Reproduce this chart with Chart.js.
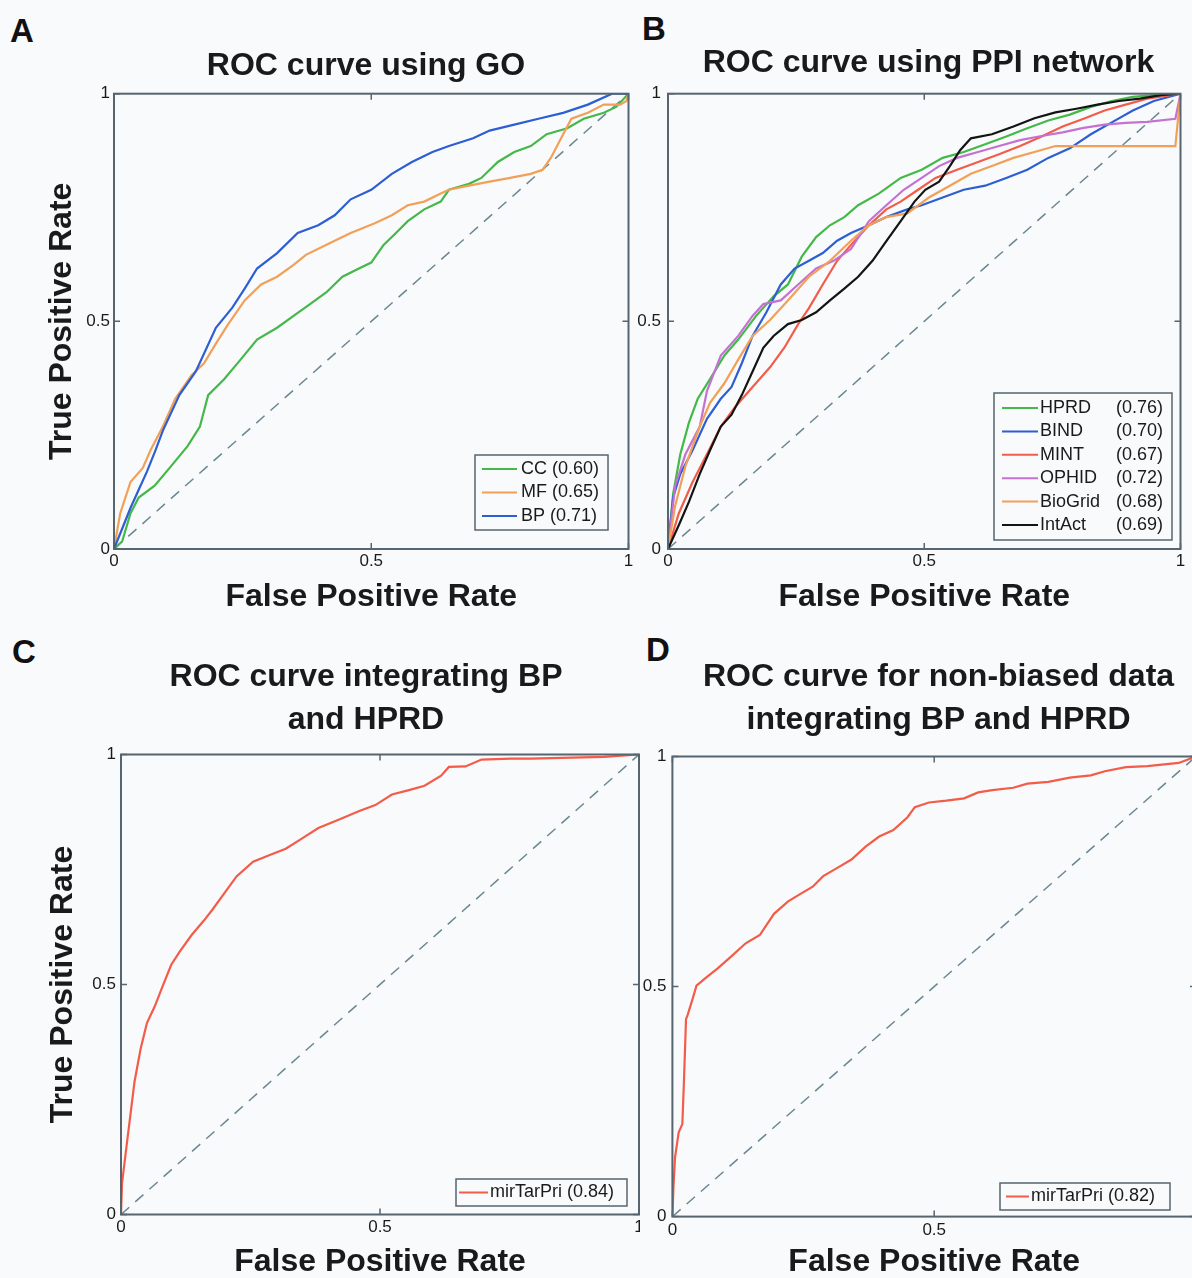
<!DOCTYPE html>
<html><head><meta charset="utf-8">
<script src="https://cdn.jsdelivr.net/npm/chart.js@4.4.0/dist/chart.umd.min.js"></script>
<style>
html,body{margin:0;padding:0;width:1192px;height:1278px;overflow:hidden;background:#f9fafc;}
canvas{position:absolute;}
.lbl{position:absolute;font-family:"Liberation Sans",Arial,sans-serif;font-weight:bold;font-size:33px;line-height:33px;color:#111;}
</style></head><body>
<div class="lbl" style="left:10px;top:14px">A</div>
<div class="lbl" style="left:642px;top:12px">B</div>
<div class="lbl" style="left:12px;top:635px">C</div>
<div class="lbl" style="left:646px;top:633px">D</div>
<canvas id="cA" width="640" height="620" style="left:0px;top:0px"></canvas>
<canvas id="cB" width="572" height="620" style="left:620px;top:0px"></canvas>
<canvas id="cC" width="640" height="658" style="left:0px;top:620px"></canvas>
<canvas id="cD" width="580" height="658" style="left:620px;top:620px"></canvas>
<script>
// ---------------- data ----------------
const tickValues = [0, 0.5, 1];
const tickLabels = ['0', '0.5', '1'];
const xAxisTitle = 'False Positive Rate';
const yAxisTitle = 'True Positive Rate';
const diagFPR = [0, 1];
const diagTPR = [0, 1];

// Panel A: GO
const titleA = ['ROC curve using GO'];
const goNames = ['CC', 'MF', 'BP'];
const goAUC = ['0.60', '0.65', '0.71'];
const goCC_fpr = [0,.016,.032,.048,.079,.111,.143,.167,.183,.214,.246,.278,.317,.349,.381,.413,.444,.476,.5,.524,.548,.571,.603,.635,.651,.69,.714,.746,.778,.81,.841,.881,.913,.952,.976,1];
const goCC_tpr = [0,.017,.078,.113,.139,.182,.226,.269,.338,.373,.416,.46,.486,.512,.538,.564,.598,.616,.629,.668,.694,.72,.746,.763,.789,.802,.815,.85,.872,.885,.911,.924,.945,.958,.971,1];
const goMF_fpr = [0,.012,.032,.056,.071,.095,.119,.151,.175,.198,.222,.254,.286,.317,.349,.373,.413,.46,.508,.54,.571,.603,.635,.651,.69,.73,.77,.81,.833,.849,.873,.889,.921,.952,.984,.996,1];
const goMF_tpr = [0,.078,.147,.178,.217,.269,.33,.382,.408,.451,.494,.546,.581,.598,.624,.646,.668,.694,.716,.733,.755,.763,.781,.789,.798,.807,.815,.824,.833,.859,.911,.945,.958,.976,.976,.984,1];
const goBP_fpr = [0,.016,.032,.048,.064,.08,.095,.127,.159,.198,.23,.254,.278,.317,.357,.397,.429,.46,.5,.54,.579,.619,.651,.698,.73,.778,.825,.873,.921,.968,1];
const goBP_tpr = [0,.045,.09,.13,.17,.215,.26,.338,.39,.486,.53,.572,.616,.65,.694,.711,.733,.768,.789,.824,.85,.872,.885,.902,.919,.932,.945,.958,.976,1,1];

// Panel B: PPI networks
const titleB = ['ROC curve using PPI network'];
const ppiNames = ['HPRD', 'BIND', 'MINT', 'OPHID', 'BioGrid', 'IntAct'];
const ppiAUC = ['0.76', '0.70', '0.67', '0.72', '0.68', '0.69'];
const hprd_fpr = [0,.01,.024,.041,.058,.082,.11,.137,.172,.206,.234,.261,.289,.316,.344,.371,.412,.454,.495,.536,.577,.619,.66,.701,.742,.784,.825,.866,.907,.948,1];
const hprd_tpr = [0,.121,.208,.278,.33,.373,.425,.46,.512,.555,.581,.642,.685,.711,.729,.755,.781,.815,.833,.859,.872,.889,.906,.924,.941,.954,.971,.984,.993,.997,1];
const bind_fpr = [0,.010,.024,.048,.076,.103,.124,.144,.165,.192,.220,.247,.275,.302,.330,.357,.392,.426,.467,.495,.536,.577,.619,.660,.701,.742,.784,.825,.866,.907,.948,1];
const bind_tpr = [0,.113,.165,.217,.286,.330,.356,.408,.468,.520,.581,.616,.633,.650,.677,.694,.711,.729,.746,.755,.772,.789,.798,.815,.833,.859,.880,.911,.937,.963,.984,1];
const mint_fpr = [0,.021,.048,.076,.103,.131,.165,.199,.227,.254,.275,.302,.330,.357,.392,.426,.454,.488,.522,.564,.605,.646,.687,.729,.770,.811,.852,.893,.935,1];
const mint_tpr = [0,.078,.147,.208,.269,.312,.356,.399,.442,.494,.529,.581,.633,.668,.711,.746,.763,.789,.815,.833,.850,.867,.885,.906,.928,.945,.963,.976,.989,1];
const ophid_fpr = [0,.014,.034,.062,.076,.103,.137,.165,.186,.220,.254,.289,.323,.357,.392,.426,.460,.495,.529,.564,.605,.646,.687,.729,.770,.811,.852,.893,.935,.990,1];
const ophid_tpr = [0,.139,.208,.269,.347,.425,.468,.512,.538,.546,.581,.616,.633,.659,.720,.755,.789,.815,.841,.859,.872,.885,.898,.907,.915,.925,.932,.936,.938,.945,1];
const biogrid_fpr = [0,.014,.034,.062,.082,.110,.137,.165,.199,.234,.275,.316,.357,.392,.426,.467,.509,.550,.591,.632,.674,.715,.756,.990,1];
const biogrid_tpr = [0,.095,.182,.269,.321,.364,.416,.468,.503,.546,.598,.633,.677,.711,.729,.737,.772,.798,.824,.841,.859,.872,.885,.885,1];
const intact_fpr = [0,.021,.041,.062,.082,.103,.124,.144,.165,.186,.206,.234,.261,.289,.316,.344,.371,.399,.426,.454,.481,.502,.529,.550,.570,.591,.632,.674,.715,.756,.797,.838,.880,.921,.962,1];
const intact_tpr = [0,.052,.104,.165,.217,.269,.295,.338,.390,.442,.468,.494,.503,.520,.546,.572,.598,.633,.676,.720,.763,.789,.807,.841,.876,.902,.911,.928,.946,.959,.967,.976,.984,.989,.997,1];

// Panel C: integrated
const titleC = ['ROC curve integrating BP', 'and HPRD'];
const intNames = ['mirTarPri'];
const intAUC_C = ['0.84'];
const intC_fpr = [0,.002,.010,.018,.026,.038,.050,.065,.081,.097,.113,.136,.160,.176,.200,.223,.255,.286,.318,.349,.381,.420,.460,.491,.523,.554,.586,.618,.633,.665,.696,.752,.791,.870,.933,1];
const intC_tpr = [0,.068,.142,.215,.288,.361,.416,.452,.498,.543,.571,.607,.639,.662,.699,.735,.767,.781,.795,.817,.840,.858,.877,.890,.913,.922,.932,.954,.973,.974,.989,.991,.991,.993,.995,1];

// Panel D: non-biased data
const titleD = ['ROC curve for non-biased data', 'integrating BP and HPRD'];
const intAUC_D = ['0.82'];
const intD_fpr = [0,.002,.005,.012,.019,.022,.026,.029,.039,.046,.066,.086,.113,.140,.167,.194,.221,.247,.268,.288,.315,.342,.369,.395,.422,.449,.463,.490,.523,.557,.584,.611,.651,.678,.718,.759,.799,.826,.866,.907,.967,1];
const intD_tpr = [0,.064,.128,.183,.201,.292,.429,.438,.475,.502,.521,.539,.566,.594,.612,.658,.685,.703,.717,.740,.758,.776,.804,.826,.840,.868,.890,.900,.904,.909,.922,.927,.932,.941,.945,.954,.959,.968,.977,.979,.986,1];

// ---------------- styles ----------------
const FONT = '"Liberation Sans", Arial, Helvetica, sans-serif';
const TXT = '#1a1a1a';
const AXIS = '#56656f';
const DIAG = '#6a8792';
const BG = '#f9fafc';
const C_GREEN = '#45b84a', C_ORANGE = '#f2a057', C_BLUE = '#2d5fd3', C_RED = '#f25c48', C_PURPLE = '#c472d2', C_BLACK = '#141414';

const pts = (xs, ys) => xs.map((x, i) => ({x: x, y: ys[i]}));

function curve(xs, ys, color) {
  return {data: pts(xs, ys), borderColor: color, backgroundColor: color, borderWidth: 2.2,
          showLine: true, pointRadius: 0, tension: 0, fill: false};
}
function diagonal() {
  return {data: pts(diagFPR, diagTPR), borderColor: DIAG, borderWidth: 1.5, borderDash: [11, 8],
          showLine: true, pointRadius: 0, tension: 0, fill: false};
}

const boxPlugin = {
  id: 'matBox',
  afterDatasetsDraw(chart) {
    const {ctx, chartArea: a, scales} = chart;
    const x = scales.x, y = scales.y;
    ctx.save();
    ctx.strokeStyle = AXIS;
    ctx.lineWidth = 2;
    ctx.strokeRect(a.left, a.top, a.right - a.left, a.bottom - a.top);
    ctx.lineWidth = 1.5;
    ctx.beginPath();
    tickValues.forEach(v => {
      const px = x.getPixelForValue(v), py = y.getPixelForValue(v);
      ctx.moveTo(px, a.bottom); ctx.lineTo(px, a.bottom - 6);
      ctx.moveTo(px, a.top); ctx.lineTo(px, a.top + 6);
      ctx.moveTo(a.left, py); ctx.lineTo(a.left + 6, py);
      ctx.moveTo(a.right, py); ctx.lineTo(a.right - 6, py);
    });
    ctx.stroke();
    ctx.restore();
  }
};

function titlePlugin(T) {
  return {
    id: 'panelTitle',
    afterDraw(chart) {
      const ctx = chart.ctx;
      ctx.save();
      ctx.font = 'bold 32px ' + FONT;
      ctx.fillStyle = TXT;
      ctx.textAlign = 'center';
      ctx.textBaseline = 'middle';
      T.lines.forEach((s, i) => ctx.fillText(s, T.cx, T.cy + i * T.gap));
      ctx.restore();
    }
  };
}

function legendPlugin(L) {
  return {
    id: 'matLegend',
    afterDraw(chart) {
      const {ctx, chartArea: a} = chart;
      const x0 = a.right - L.right - L.w, y0 = a.bottom - L.bottom - L.h;
      ctx.save();
      ctx.fillStyle = BG; ctx.fillRect(x0, y0, L.w, L.h);
      ctx.strokeStyle = AXIS; ctx.lineWidth = 1.5; ctx.strokeRect(x0, y0, L.w, L.h);
      ctx.font = L.size + 'px ' + FONT;
      ctx.textBaseline = 'middle';
      L.items.forEach((it, i) => {
        const yy = y0 + L.first + i * L.gap;
        ctx.strokeStyle = it.color; ctx.lineWidth = 2;
        ctx.beginPath(); ctx.moveTo(x0 + L.l0, yy); ctx.lineTo(x0 + L.l1, yy); ctx.stroke();
        ctx.fillStyle = TXT;
        if (L.valueRight != null) {
          ctx.textAlign = 'left'; ctx.fillText(it.label, x0 + L.tx, yy);
          ctx.textAlign = 'right'; ctx.fillText('(' + it.auc + ')', x0 + L.w - L.valueRight, yy);
        } else {
          ctx.textAlign = 'left'; ctx.fillText(it.label + ' (' + it.auc + ')', x0 + L.tx, yy);
        }
      });
      ctx.restore();
    }
  };
}

function build(id, P) {
  const tickFont = {family: FONT, size: 17};
  const axTitleFont = {family: FONT, size: 32, weight: 'bold', lineHeight: 1};
  new Chart(document.getElementById(id), {
    type: 'scatter',
    data: {datasets: P.datasets},
    options: {
      responsive: false, animation: false, devicePixelRatio: 1, events: [],
      layout: {padding: {left: 0, right: P.padRight, top: P.chartTop, bottom: 0}},
      plugins: {legend: {display: false}, tooltip: {enabled: false}, title: {display: false}},
      scales: {
        x: {type: 'linear', position: 'bottom', min: 0, max: 1,
            grid: {display: false, drawTicks: false}, border: {display: false},
            afterBuildTicks: s => { s.ticks = tickValues.map(v => ({value: v})); },
            afterFit: s => { s.height = P.xH; s.paddingLeft = 0; s.paddingRight = 0; },
            ticks: {padding: P.xTickPad, color: TXT, font: tickFont, maxRotation: 0,
                    callback: (v, i) => tickLabels[i]},
            title: {display: true, text: xAxisTitle, color: TXT, font: axTitleFont,
                    padding: {top: 0, bottom: P.xTitleBottom}}},
        y: {type: 'linear', position: 'left', min: 0, max: 1,
            grid: {display: false, drawTicks: false}, border: {display: false},
            afterBuildTicks: s => { s.ticks = tickValues.map(v => ({value: v})); },
            afterFit: s => { s.width = P.yW; s.paddingTop = 0; s.paddingBottom = 0; },
            ticks: {padding: P.yTickPad, color: TXT, font: tickFont,
                    callback: (v, i) => tickLabels[i]},
            title: P.yTitle ? {display: true, text: yAxisTitle, color: TXT, font: axTitleFont,
                    padding: {top: P.yTitleTop, bottom: 0}} : {display: false}}
      }
    },
    plugins: [boxPlugin, titlePlugin(P.title), legendPlugin(P.legend)]
  });
}

// Panel A  (chart area 114..628.5 x 93.7..549)
build('cA', {
  datasets: [curve(goBP_fpr, goBP_tpr, C_BLUE), curve(goMF_fpr, goMF_tpr, C_ORANGE),
             curve(goCC_fpr, goCC_tpr, C_GREEN), diagonal()],
  title: {lines: titleA, cx: 366, cy: 66, gap: 0},
  chartTop: 93.7, padRight: 640 - 628.5, yW: 114, xH: 71, xTickPad: 2, yTickPad: 4,
  xTitleBottom: 7, yTitle: true, yTitleTop: 46,
  legend: {w: 133, h: 75, right: 20.5, bottom: 19, first: 14, gap: 23.5, l0: 7, l1: 42, tx: 46, size: 18,
           items: goNames.map((n, i) => ({label: n, auc: goAUC[i], color: [C_GREEN, C_ORANGE, C_BLUE][i]}))}
});

// Panel B  (chart area 668..1180.5)
const ppiColors = [C_GREEN, C_BLUE, C_RED, C_PURPLE, C_ORANGE, C_BLACK];
build('cB', {
  datasets: [curve(intact_fpr, intact_tpr, C_BLACK), curve(biogrid_fpr, biogrid_tpr, C_ORANGE),
             curve(ophid_fpr, ophid_tpr, C_PURPLE), curve(mint_fpr, mint_tpr, C_RED),
             curve(bind_fpr, bind_tpr, C_BLUE), curve(hprd_fpr, hprd_tpr, C_GREEN), diagonal()],
  title: {lines: titleB, cx: 928.5 - 620, cy: 63, gap: 0},
  chartTop: 93.7, padRight: 572 - 560.5, yW: 48, xH: 71, xTickPad: 2, yTickPad: 7,
  xTitleBottom: 7, yTitle: false,
  legend: {w: 178, h: 147, right: 8.5, bottom: 9, first: 15, gap: 23.4, l0: 8, l1: 44, tx: 46, valueRight: 9, size: 18,
           items: ppiNames.map((n, i) => ({label: n, auc: ppiAUC[i], color: ppiColors[i]}))}
});

// Panel C  (chart area 121..639 x 754.5..1214.5)
build('cC', {
  datasets: [curve(intC_fpr, intC_tpr, C_RED), diagonal()],
  title: {lines: titleC, cx: 366, cy: 57.5, gap: 43},
  chartTop: 134.5, padRight: 1, yW: 121, xH: 63.5, xTickPad: 2.3, yTickPad: 5,
  xTitleBottom: 0, yTitle: true, yTitleTop: 47,
  legend: {w: 171, h: 27, right: 12, bottom: 8.5, first: 13.5, gap: 0, l0: 3, l1: 32, tx: 34, size: 18,
           items: intNames.map((n, i) => ({label: n, auc: intAUC_C[i], color: C_RED}))}
});

// Panel D  (chart area 672.4..1196 x 756.5..1216.6)
build('cD', {
  datasets: [curve(intD_fpr, intD_tpr, C_RED), diagonal()],
  title: {lines: titleD, cx: 938.5 - 620, cy: 57.5, gap: 43},
  chartTop: 136.5, padRight: 4, yW: 52.4, xH: 61.4, xTickPad: 4, yTickPad: 6,
  xTitleBottom: 0, yTitle: false,
  legend: {w: 170, h: 27, right: 26, bottom: 6.6, first: 13.5, gap: 0, l0: 6, l1: 29, tx: 31, size: 18,
           items: intNames.map((n, i) => ({label: n, auc: intAUC_D[i], color: C_RED}))}
});
</script>
</body></html>
